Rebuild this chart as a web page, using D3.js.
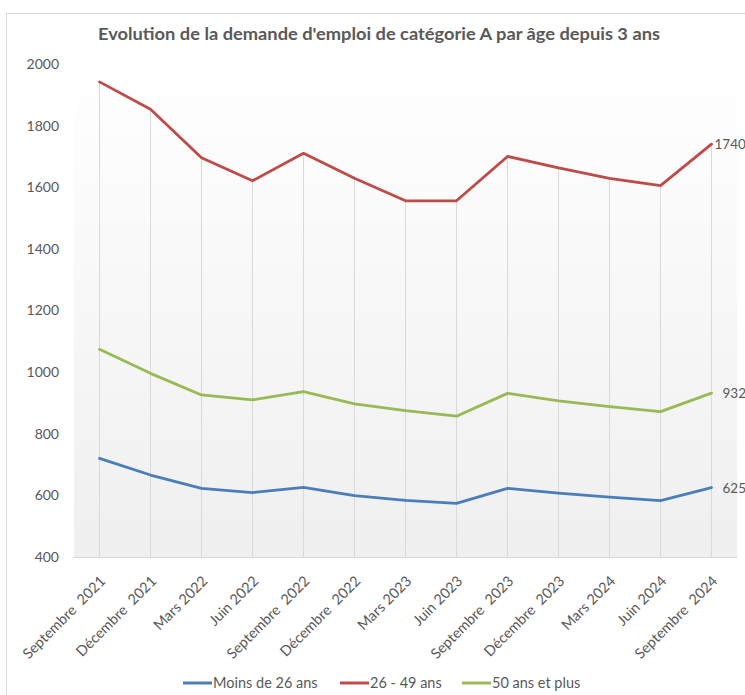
<!DOCTYPE html>
<html><head><meta charset="utf-8">
<script src="https://cdn.jsdelivr.net/npm/d3@7"></script>
<style>
html,body{margin:0;padding:0;background:#fff;}
svg{display:block;font-family:Lato,"Open Sans",sans-serif;}
</style></head>
<body><svg id="c" width="745" height="695"></svg>
<script>
const categories = ["Septembre  2021","Décembre  2021","Mars 2022","Juin 2022","Septembre  2022","Décembre  2022","Mars 2023","Juin 2023","Septembre  2023","Décembre  2023","Mars 2024","Juin 2024","Septembre  2024"];
const moins26 = [720,666,623,609,626,599,584,574,623,607,594,583,625];
const age26_49 = [1942,1853,1696,1621,1710,1629,1556,1556,1700,1663,1629,1605,1740];
const plus50 = [1074,996,926,910,937,897,875,857,931,907,888,872,932];
const seriesNames = ["Moins de 26 ans","26 - 49 ans","50 ans et plus"];
const seriesColors = ["#4A7EBB","#BE4B48","#98B954"];
const yTicks = [400,600,800,1000,1200,1400,1600,1800,2000];
const title = "Evolution de la demande d'emploi de catégorie A par âge depuis 3 ans";

const series = [moins26, age26_49, plus50].map((v,i)=>({name:seriesNames[i], color:seriesColors[i], values:v}));
const svg = d3.select("#c");
const textColor = "#595959";

// chart frame
svg.append("rect").attr("x",6.5).attr("y",13.5).attr("width",800).attr("height",800)
  .attr("fill","#fff").attr("stroke","#d9d9d9");

const x = d3.scaleBand().domain(categories).range([74,737]).padding(0);
const y = d3.scaleLinear().domain([400,2000]).range([557,64]);
const cx = c => x(c) + x.bandwidth()/2;

// gradient plot background
const defs = svg.append("defs");
const g = defs.append("linearGradient").attr("id","bg").attr("x1",0).attr("y1",0).attr("x2",0).attr("y2",1);
g.append("stop").attr("offset","0%").attr("stop-color","#ffffff");
g.append("stop").attr("offset","100%").attr("stop-color","#efefef");
svg.append("rect").attr("x",74).attr("y",y(2000)).attr("width",663).attr("height",y(400)-y(2000)).attr("fill","url(#bg)");

// title
svg.append("text").attr("x",379).attr("y",40).attr("text-anchor","middle")
  .attr("font-size",17).attr("font-weight","bold").attr("fill",textColor)
  .attr("textLength",562).attr("lengthAdjust","spacingAndGlyphs").text(title);

// drop lines
svg.append("g").selectAll("line").data(categories).join("line")
  .attr("x1",d=>cx(d)).attr("x2",d=>cx(d))
  .attr("y1",(d,i)=>y(d3.max(series,s=>s.values[i]))).attr("y2",y(400))
  .attr("stroke","#d9d9d9").attr("stroke-width",1);

// y axis
const yAxis = d3.axisLeft(y).tickValues(yTicks).tickFormat(d3.format("d")).tickSize(0).tickPadding(0);
const ya = svg.append("g").attr("transform","translate(59,0)").call(yAxis);
ya.select(".domain").remove();
ya.selectAll("text").attr("font-size",14).attr("fill",textColor).attr("font-family","Lato,sans-serif");

// baseline
svg.append("line").attr("x1",74).attr("x2",737).attr("y1",y(400)+0.5).attr("y2",y(400)+0.5).attr("stroke","#d9d9d9");

// x labels
const xAxis = d3.axisBottom(x).tickSize(0).tickPadding(0);
const xa = svg.append("g").attr("transform",`translate(0,${y(400)})`).call(xAxis);
xa.select(".domain").remove();
xa.selectAll("text").attr("font-size",14.5).attr("fill",textColor).attr("font-family","Lato,sans-serif")
  .style("white-space","pre")
  .attr("text-anchor","end").attr("dy",0).attr("y",0)
  .attr("transform","translate(7,25) rotate(-45)");

// lines
const line = d3.line().x((d,i)=>cx(categories[i])).y(d=>y(d));
svg.append("g").selectAll("path").data(series).join("path")
  .attr("d",s=>line(s.values)).attr("fill","none").attr("stroke",s=>s.color)
  .attr("stroke-width",2.8).attr("stroke-linejoin","round").attr("stroke-linecap","round");

// data labels at last point
const last = categories.length-1;
const labelDx = [11,3,11];
svg.append("g").selectAll("text").data(series).join("text")
  .attr("x",(s,i)=>cx(categories[last])+labelDx[i]).attr("y",s=>y(s.values[last])+5)
  .attr("font-size",13.5).attr("fill",textColor).text(s=>s.values[last]);

// legend
const legX = [183,340,462];
const leg = svg.append("g").selectAll("g").data(series).join("g")
  .attr("transform",(s,i)=>`translate(${legX[i]},683)`);
leg.append("line").attr("x1",0).attr("x2",29).attr("y1",0).attr("y2",0).attr("stroke",s=>s.color).attr("stroke-width",3);
leg.append("text").attr("x",30).attr("y",5).attr("font-size",14.5).attr("fill",textColor).text(s=>s.name);
</script></body></html>
